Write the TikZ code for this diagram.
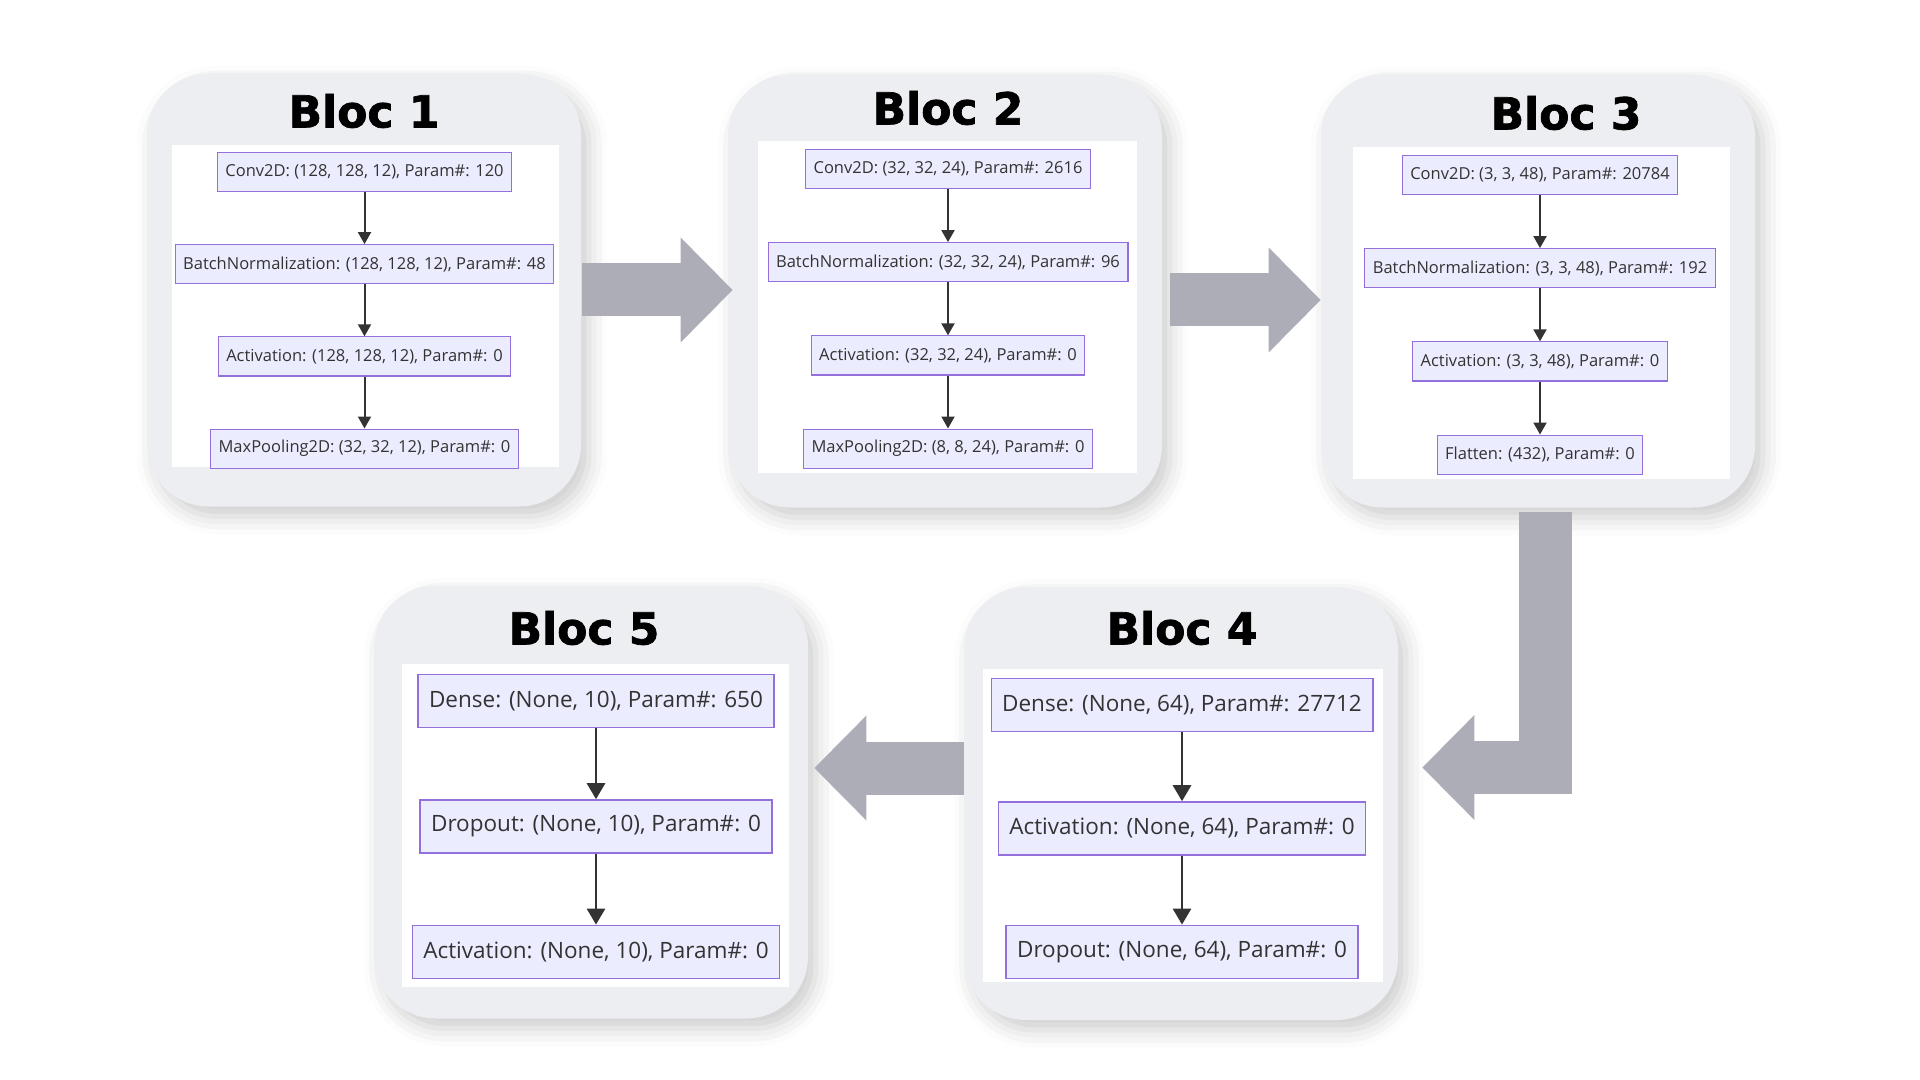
\documentclass[tikz,border=0pt]{standalone}
\usepackage{fontspec}
\setmainfont{Open Sans}
\newfontfamily\blocfont{DejaVu Sans}[BoldFeatures={FakeBold=1.6}]
\usetikzlibrary{positioning,arrows.meta,shadows.blur}

\definecolor{cardgray}{HTML}{ECEEF1}
\definecolor{layerfill}{HTML}{ECECFF}
\definecolor{layerline}{HTML}{9370DB}
\definecolor{flowgray}{HTML}{333333}
\definecolor{arrowgray}{HTML}{ADADB8}

\tikzstyle{card} = [draw=none, fill=cardgray, rounded corners=31pt, minimum width=217pt, minimum height=216.5pt, blur shadow={shadow xshift=4pt, shadow yshift=-5pt, shadow blur radius=9pt, shadow opacity=20}]
\tikzstyle{panel} = [fill=white, inner sep=0pt]
\tikzstyle{bloctitle} = [font=\blocfont\bfseries\fontsize{22}{26}\selectfont, text=black]
\tikzstyle{layerbox} = [draw=layerline, fill=layerfill, line width=0.6pt, text=flowgray, inner xsep=4pt, inner ysep=0pt, minimum height=19.5pt, font=\fontsize{8.25}{10}\selectfont]
\tikzstyle{biglayerbox} = [layerbox, inner xsep=5.5pt, minimum height=26.5pt, line width=0.7pt, font=\fontsize{11.25}{14}\selectfont]
\tikzstyle{flowarrow} = [draw=flowgray, line width=1pt, -{Triangle[width=6.5pt,length=6pt]}]
\tikzstyle{bigflowarrow} = [draw=flowgray, line width=1.4pt, -{Triangle[width=9pt,length=8pt]}]
\tikzstyle{bigarrow} = [draw=arrowgray, line width=26.5pt, -{Triangle[width=52.5pt,length=26pt,line width=0pt]}]

\begin{document}
\begin{tikzpicture}[x=0.5pt,y=-0.5pt]
\useasboundingbox (0,0) rectangle (1920,1080);
%cards
\node[card] (card1) at (364,290) {};
\node[card] (card2) at (945,291) {};
\node[card] (card3) at (1538,291) {};
\node[card] (card4) at (1181,803.5) {};
\node[card] (card5) at (591,802) {};

%white panels
\node[panel, minimum width=193.5pt, minimum height=161pt] (panel1) at (365.5,306) {};
\node[panel, minimum width=189.5pt, minimum height=166pt] (panel2) at (947.5,307) {};
\node[panel, minimum width=188.5pt, minimum height=166pt] (panel3) at (1541.5,313) {};
\node[panel, minimum width=200pt, minimum height=156.5pt] (panel4) at (1183,825.5) {};
\node[panel, minimum width=193.5pt, minimum height=161.5pt] (panel5) at (595.5,825.5) {};

%titles
\node[bloctitle] (title1) at (364,111) {Bloc 1};
\node[bloctitle] (title2) at (948,108) {Bloc 2};
\node[bloctitle] (title3) at (1566,113) {Bloc 3};
\node[bloctitle] (title4) at (1182,628) {Bloc 4};
\node[bloctitle] (title5) at (584,628) {Bloc 5};

%bloc 1
\node[layerbox] (conv1) at (364.5,172) {Conv2D: (128, 128, 12), Param\#: 120};
\node[layerbox, below=26pt of conv1] (norm1) {BatchNormalization: (128, 128, 12), Param\#: 48};
\node[layerbox, below=26pt of norm1] (act1) {Activation: (128, 128, 12), Param\#: 0};
\node[layerbox, below=26pt of act1] (pool1) {MaxPooling2D: (32, 32, 12), Param\#: 0};
\draw[flowarrow] (conv1) -- (norm1);
\draw[flowarrow] (norm1) -- (act1);
\draw[flowarrow] (act1) -- (pool1);

%bloc 2
\node[layerbox] (conv2) at (948,169) {Conv2D: (32, 32, 24), Param\#: 2616};
\node[layerbox, below=26.5pt of conv2] (norm2) {BatchNormalization: (32, 32, 24), Param\#: 96};
\node[layerbox, below=26.5pt of norm2] (act2) {Activation: (32, 32, 24), Param\#: 0};
\node[layerbox, below=26.5pt of act2] (pool2) {MaxPooling2D: (8, 8, 24), Param\#: 0};
\draw[flowarrow] (conv2) -- (norm2);
\draw[flowarrow] (norm2) -- (act2);
\draw[flowarrow] (act2) -- (pool2);

%bloc 3
\node[layerbox] (conv3) at (1540,175) {Conv2D: (3, 3, 48), Param\#: 20784};
\node[layerbox, below=26.5pt of conv3] (norm3) {BatchNormalization: (3, 3, 48), Param\#: 192};
\node[layerbox, below=26.5pt of norm3] (act3) {Activation: (3, 3, 48), Param\#: 0};
\node[layerbox, below=26.5pt of act3] (flat3) {Flatten: (432), Param\#: 0};
\draw[flowarrow] (conv3) -- (norm3);
\draw[flowarrow] (norm3) -- (act3);
\draw[flowarrow] (act3) -- (flat3);

%bloc 4
\node[biglayerbox] (dense4) at (1182,705) {Dense: (None, 64), Param\#: 27712};
\node[biglayerbox, below=34.5pt of dense4] (act4) {Activation: (None, 64), Param\#: 0};
\node[biglayerbox, below=34.5pt of act4] (drop4) {Dropout: (None, 64), Param\#: 0};
\draw[bigflowarrow] (dense4) -- (act4);
\draw[bigflowarrow] (act4) -- (drop4);

%bloc 5
\node[biglayerbox] (dense5) at (596,701) {Dense: (None, 10), Param\#: 650};
\node[biglayerbox, below=35.5pt of dense5] (drop5) {Dropout: (None, 10), Param\#: 0};
\node[biglayerbox, below=35.5pt of drop5] (act5) {Activation: (None, 10), Param\#: 0};
\draw[bigflowarrow] (dense5) -- (drop5);
\draw[bigflowarrow] (drop5) -- (act5);

%big arrows between blocs
\draw[bigarrow] ([xshift=0.5pt]card1.east) -- ([xshift=2.5pt,yshift=0.5pt]card2.west);
\draw[bigarrow] ([xshift=4pt,yshift=-4.5pt]card2.east) -- ([yshift=-4.5pt]card3.west);
\draw[bigarrow] ([xshift=3.75pt,yshift=-2pt]card3.south) |- ([xshift=12pt,yshift=18pt]card4.east);
\draw[bigarrow] ([yshift=17.75pt]card4.west) -- ([xshift=3pt,yshift=17pt]card5.east);
\end{tikzpicture}
\end{document}
